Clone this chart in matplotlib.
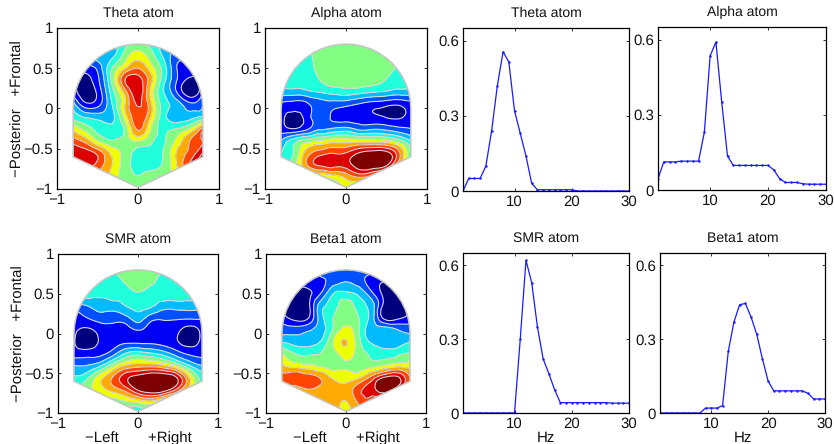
import numpy as np
import matplotlib
matplotlib.use("Agg")
import matplotlib.pyplot as plt
import matplotlib.tri as mtri
from matplotlib.patches import Polygon

plt.rcParams['font.family'] = ['Liberation Sans', 'DejaVu Sans']
plt.rcParams['axes.unicode_minus'] = True
plt.rcParams['text.hinting'] = 'none'
plt.rcParams['text.hinting_factor'] = 1

map_x = [-0.8, -0.64, -0.48, -0.32, -0.16, 0, 0.16, 0.32, 0.48, 0.64, 0.8]
map_y = [0.8, 0.65, 0.5, 0.35, 0.2, 0.05, -0.1, -0.25, -0.4, -0.55, -0.7, -0.85, -1.0]

theta_map = [
    [3, 3, 3, 3, 4, 5, 4, 3, 3, 3, 3],
    [3, 3, 3, 3.3, 5, 6, 5, 3.3, 2, 2, 2],
    [1, 1, 2, 4.5, 6.5, 7.5, 6, 4, 1.5, 1, 1],
    [1, 0.2, 1.5, 4.8, 8.5, 9.1, 6.8, 3.8, 1.5, 0.2, 1],
    [1, -0.2, 1, 4, 7, 9.1, 6.2, 3.5, 1.5, -0.2, 1.5],
    [3, 0.8, 1.3, 3.5, 6.5, 8.6, 6.7, 4, 3, 1.8, 2.5],
    [4, 3.3, 3, 3.2, 6, 8.2, 6.5, 3.8, 3, 3, 3.5],
    [6.2, 5, 4.2, 3.8, 4.8, 7.7, 5.5, 4.3, 4.5, 5.5, 8],
    [8, 7, 5.3, 4.6, 5, 5.6, 4.7, 4.4, 5.8, 7.5, 8.5],
    [9.3, 9, 8, 6.2, 5.2, 4, 4, 4.6, 6.6, 7.8, 9.5],
    [9, 9, 8, 6.5, 5, 4, 4, 4.7, 6.5, 8.5, 10],
    [7, 7, 7, 6, 5, 4.6, 5, 5, 6, 7, 8],
    [5, 5, 5, 5, 5, 5.8, 5, 5, 5, 5, 5],
]
alpha_map = [
    [5, 5, 5, 5, 5, 5, 5, 5, 5, 5, 5],
    [4, 4, 4.2, 5, 5, 5, 5, 5, 5, 5, 4.5],
    [4, 4, 4, 5, 5.3, 5.3, 5.3, 5.2, 5, 4.4, 4],
    [4, 4, 4, 4.5, 5, 5, 5, 4.9, 4.5, 4, 3.8],
    [3, 3, 3.2, 3.5, 3.8, 4, 3.8, 3.5, 3.3, 3, 3],
    [1.3, 1, 1.3, 2, 2, 1.8, 1.4, 1, 0.8, 0.6, 1],
    [0.9, 0.2, 1, 2, 1.3, 1, 1, 0.7, 0.45, 0.3, 1],
    [1, 0.5, 1.3, 2.3, 2.6, 2.8, 2.2, 2.3, 2.2, 1.8, 1.5],
    [2.5, 4, 5, 5.6, 6, 6, 6, 6, 5.8, 5, 3.5],
    [3.5, 4.6, 7, 8, 8.4, 8.5, 9.5, 10, 10, 8, 4.5],
    [4, 5, 7.5, 8.7, 9, 9, 10.2, 10.5, 10, 7, 4],
    [4, 4, 5, 5.5, 6, 6.8, 7.6, 7, 6, 5, 4],
    [5, 5, 5, 5, 5, 6, 5, 5, 5, 5, 5],
]
smr_map = [
    [4, 4, 4, 4.5, 5, 5, 5, 4.5, 4, 4, 4],
    [4, 4, 4, 4, 4.6, 5, 4.8, 4, 4, 4, 4],
    [4, 4, 3.7, 4, 4, 4.4, 4, 4, 4, 4, 4],
    [2, 2.5, 3, 3, 3.5, 3.9, 3.7, 3, 3, 3, 3],
    [1, 1.5, 2, 2, 2.2, 3, 2, 1.7, 1.7, 1.7, 1.7],
    [0.8, 0.3, 0.9, 1, 1, 1.6, 1, 1, 0.8, 0.1, 0.8],
    [0.6, -0.2, 0.6, 1, 1.2, 1.2, 1.2, 1, 0.6, 0, 0.8],
    [1, 1, 1.2, 2, 3.5, 4, 3.6, 3, 2, 1.3, 1.2],
    [2.5, 2.5, 3.2, 5, 6.5, 7, 7, 6.5, 5.3, 3.5, 2.5],
    [3.6, 4.2, 6, 7.5, 9.1, 10, 10.6, 10.6, 9.5, 6.5, 4],
    [4, 5, 6, 7, 8, 9.8, 10.6, 10.4, 8.5, 6, 4],
    [4, 4, 5, 5, 5.5, 6, 6.5, 5.5, 5, 4, 4],
    [4, 4, 4, 4, 4, 3.5, 4, 4, 4, 4, 4],
]
beta_map = [
    [2, 2, 2, 2, 2, 2, 2, 2, 2, 2, 2],
    [1, 1, 1, 1.2, 2, 2.5, 2, 1, 0.5, 0.5, 1],
    [-0.3, -0.3, 0.2, 1.5, 3.5, 3.8, 3.3, 1.8, 0.2, -0.3, 0],
    [-0.3, -0.3, 0.1, 3, 4, 5, 4, 3, 0.1, -0.3, 0],
    [1, 0.1, 0.3, 3, 4.5, 5.2, 4.5, 3, 0.1, 0.2, 1],
    [2, 2, 2.3, 3, 4.6, 5.8, 4.6, 3, 3, 2.5, 2],
    [3.3, 3, 3, 3.5, 5.5, 6.55, 4.8, 3.3, 3, 3, 3.5],
    [5.5, 4.5, 4.3, 4.5, 5, 6, 5, 4.3, 4, 4.2, 4.5],
    [6.7, 6, 5.7, 5.2, 5, 5.4, 5, 5, 5.5, 6, 6],
    [8, 8.2, 8, 7.4, 6.3, 6, 6.3, 7.8, 9.5, 9.7, 7.5],
    [8, 7, 7.5, 7.2, 7, 6.8, 8.2, 9, 10.5, 9, 7],
    [7, 7, 7, 7, 7, 6.5, 7.8, 8, 7, 7, 7],
    [7, 7, 7, 7, 7, 6.3, 7, 7, 7, 7, 7],
]

band_colors = ['#00007f', '#0000f5', '#0050ff', '#00bcff', '#22ffdd', '#82ff82',
               '#eeff00', '#ffaa00', '#ff4600', '#dd0000', '#7f0000']

freq = list(range(1, 31))
theta_spec = [0, .05, .05, .05, .1, .24, .42, .555, .515, .32, .23, .14, .03, .005, .005,
              .005, .005, .005, .005, .005, 0, 0, 0, 0, 0, 0, 0, 0, 0, 0]
alpha_spec = [.045, .112, .112, .112, .115, .115, .115, .115, .23, .535, .59, .35, .135, .098, .098,
              .098, .098, .098, .098, .098, .08, .045, .03, .03, .03, .025, .023, .023, .023, .023]
smr_spec = [0, 0, 0, 0, 0, 0, 0, 0, 0, 0, .3, .62, .53, .35, .22,
            .16, .095, .042, .042, .042, .042, .042, .042, .042, .042, .042, .04, .04, .04, .04]
beta_spec = [0, 0, 0, 0, 0, 0, 0, 0, .02, .02, .02, .03, .25, .37, .44,
             .445, .39, .32, .22, .13, .09, .09, .09, .09, .09, .09, .08, .057, .057, .057]

W, H = 834, 444
fig = plt.figure(figsize=(W / 100, H / 100), dpi=100)


def make_axes(l, t, r, b):
    return fig.add_axes([l / W, 1 - b / H, (r - l) / W, (b - t) / H])


def style(ax):
    ax.tick_params(direction='in', top=True, right=True, length=2, width=0.6,
                   labelsize=10.5, pad=3, colors='#111111')
    for s in ax.spines.values():
        s.set_linewidth(0.9)


# head outline: arc over the top, straight sides and a point at the bottom
ang = np.linspace(0, np.pi, 25)
outline = np.vstack([np.c_[0.8 * np.cos(ang), 0.8 * np.sin(ang)],
                     [[-0.8, -0.6], [0, -0.98], [0.8, -0.6]]])


def draw_map(box, field, title, ylabel=False, xlabel=False):
    ax = make_axes(*box)
    X, Y = np.meshgrid(map_x, map_y)
    tri = mtri.Triangulation(X.ravel(), Y.ravel())
    fine, z = mtri.UniformTriRefiner(tri).refine_field(np.array(field, float).ravel(), subdiv=3)
    levels = np.arange(0.5, 10.5)
    all_levels = np.r_[-10, levels, 20]
    cf = ax.tricontourf(fine, z, levels=all_levels, colors=band_colors)
    cl = ax.tricontour(fine, z, levels=levels, colors='#d8d8d8', linewidths=0.8)
    clip = Polygon(outline, closed=True, transform=ax.transData, fill=False)
    cf.set_clip_path(clip)
    cl.set_clip_path(clip)
    ax.add_patch(Polygon(outline, closed=True, fill=False, ec='#c4c4c4', lw=1.1, zorder=5))
    ax.set_xlim(-1, 1)
    ax.set_ylim(-1, 1)
    ax.set_xticks([-1, 0, 1])
    ax.set_yticks([-1, -0.5, 0, 0.5, 1])
    ax.set_yticklabels(['\u22121', '\u22120.5', '0', '0.5', '1'])
    ax.set_xticklabels(['\u22121', '0', '1'])
    style(ax)
    ax.set_title(title, fontsize=10, pad=8, color='#111111')
    if ylabel:
        ax.set_ylabel('\u2212Posterior   +Frontal', fontsize=10.5, labelpad=-1.5, color='#111111')
    if xlabel:
        ax.set_xlabel('\u2212Left       +Right', fontsize=11, labelpad=0, color='#111111')


def draw_spec(box, vals, title, xlabel=False):
    ax = make_axes(*box)
    ax.plot(freq, vals, color='#1a1aff', lw=0.9, marker='.', ms=1.5)
    ax.set_xlim(1, 30)
    ax.set_ylim(0, 0.65)
    ax.set_xticks([10, 20, 30])
    ax.set_yticks([0, 0.3, 0.6])
    ax.set_yticklabels(['0', '0.3', '0.6'])
    style(ax)
    ax.set_title(title, fontsize=10, pad=8, color='#111111')
    if xlabel:
        ax.set_xlabel('Hz', fontsize=10.5, labelpad=0, color='#111111')


draw_map((57, 28, 219, 189), theta_map, 'Theta atom', ylabel=True)
draw_map((265, 28, 427, 189), alpha_map, 'Alpha atom')
draw_map((58, 254, 218, 413), smr_map, 'SMR atom', ylabel=True, xlabel=True)
draw_map((266, 254, 426, 413), beta_map, 'Beta1 atom', xlabel=True)
draw_spec((463, 28, 629, 191), theta_spec, 'Theta atom')
draw_spec((658, 27, 826, 190), alpha_spec, 'Alpha atom')
draw_spec((463, 253, 629, 413), smr_spec, 'SMR atom', xlabel=True)
draw_spec((660, 253, 825, 413), beta_spec, 'Beta1 atom', xlabel=True)

fig.savefig('out.png', dpi=100)
